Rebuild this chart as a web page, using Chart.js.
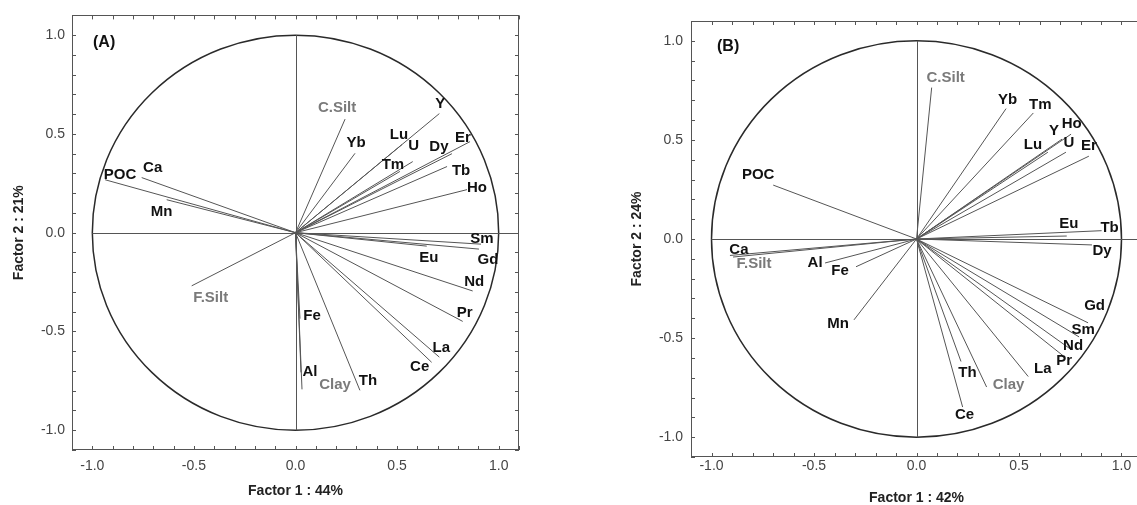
<!DOCTYPE html>
<html>
<head>
<meta charset="utf-8">
<script src="https://cdn.jsdelivr.net/npm/chart.js@4.4.0/dist/chart.umd.min.js"></script>
<style>
html, body { margin:0; padding:0; background:#fff; overflow:hidden; width:1137px; height:505px; }
canvas { position:absolute; top:0; }
#chartA { left:0; }
#chartB { left:620px; }
</style>
</head>
<body>
<canvas id="chartA" width="540" height="505"></canvas>
<canvas id="chartB" width="530" height="505"></canvas>
<script>
// loadings
var varsA = ['C.Silt','Yb','Y','Lu','U','Tm','Dy','Er','Tb','Ho','Sm','Gd','Eu','Nd','Pr','La','Ce','Th','Clay','Al','Fe','POC','Ca','Mn','F.Silt'];
var f1A = [0.244,0.293,0.708,0.524,0.577,0.514,0.770,0.859,0.746,0.844,0.913,0.903,0.646,0.872,0.823,0.708,0.670,0.317,0.032,0.027,0.022,-0.937,-0.757,-0.634,-0.511];
var f2A = [0.575,0.402,0.603,0.446,0.360,0.310,0.400,0.461,0.335,0.218,-0.058,-0.083,-0.068,-0.295,-0.449,-0.630,-0.656,-0.798,-0.793,-0.707,-0.435,0.268,0.279,0.167,-0.269];

var varsB = ['C.Silt','Yb','Tm','Y','Ho','Lu','U','Er','Eu','Tb','Dy','Gd','Sm','Nd','Pr','La','Clay','Th','Ce','POC','Ca','F.Silt','Al','Fe','Mn'];
var f1B = [0.074,0.437,0.570,0.710,0.754,0.641,0.729,0.841,0.733,0.903,0.856,0.837,0.793,0.749,0.715,0.545,0.342,0.217,0.225,-0.699,-0.910,-0.895,-0.446,-0.295,-0.305];
var f2B = [0.764,0.658,0.636,0.504,0.529,0.438,0.438,0.418,0.015,0.042,-0.030,-0.423,-0.494,-0.554,-0.589,-0.694,-0.747,-0.618,-0.848,0.272,-0.083,-0.091,-0.121,-0.140,-0.408];

var grainSize = ['C.Silt','F.Silt','Clay'];
var tickLabels = [-1.0,-0.5,0.0,0.5,1.0];

// label offsets from the arrow tip (px)
var dxA = [-8,1,1,-3,1,-7,-13,-7,14,10,1,9,2,1.5,2,2,-12,8,33,9,12,15,11,-5,19];
var dyA = [-11,-10,-10,-10,-16,-7,-7,-4,4.5,-2,-5,11,12,-9,-9,-9,4.5,-9,-4,-1,-3,-5,-10,12.5,12];
var dxB = [14,1.5,7,-8,0.7,-15,3,0,2,8,10,6.5,4,3,1,14.5,22,6.5,2,-15,9,21,-10,-16,-16];
var dyB = [-10,-9,-8.5,-8.5,-10,-7.5,-9,-10,-12,-3,6,-17,-7,-3,5,-7.5,-2,11,8,-10,-6,7,0,4.5,4];

var FONT = "'Liberation Sans', Arial, sans-serif";

function pcaPlugin(names, dx, dy, tag, tagDx, tagDy) {
  return {
    id: 'pca',
    beforeDatasetsDraw: function(chart) {
      var ctx = chart.ctx, xs = chart.scales.x, ys = chart.scales.y, a = chart.chartArea;
      var cx = xs.getPixelForValue(0), cy = ys.getPixelForValue(0);
      var rx = xs.getPixelForValue(1) - cx, ry = cy - ys.getPixelForValue(1);
      ctx.save();
      ctx.strokeStyle = '#555';
      ctx.lineWidth = 1;
      ctx.strokeRect(Math.round(a.left)+0.5, Math.round(a.top)+0.5, Math.round(a.right-a.left)-1, Math.round(a.bottom-a.top)-1);
      // inward ticks on all four sides
      ctx.beginPath();
      xs.ticks.forEach(function(t) {
        var p = Math.round(xs.getPixelForValue(t.value))+0.5;
        ctx.moveTo(p, a.bottom); ctx.lineTo(p, a.bottom-4);
        ctx.moveTo(p, a.top); ctx.lineTo(p, a.top+4);
      });
      ys.ticks.forEach(function(t) {
        var p = Math.round(ys.getPixelForValue(t.value))+0.5;
        ctx.moveTo(a.left, p); ctx.lineTo(a.left+4, p);
        ctx.moveTo(a.right, p); ctx.lineTo(a.right-4, p);
      });
      ctx.stroke();
      // unit circle
      ctx.beginPath();
      ctx.ellipse(cx, cy, rx, ry, 0, 0, 2*Math.PI);
      ctx.strokeStyle = '#2a2a2a';
      ctx.lineWidth = 1.5;
      ctx.stroke();
      // axes through the origin
      ctx.beginPath();
      ctx.moveTo(xs.getPixelForValue(-1), Math.round(cy)+0.5);
      ctx.lineTo(a.right, Math.round(cy)+0.5);
      ctx.moveTo(Math.round(cx)+0.5, ys.getPixelForValue(1));
      ctx.lineTo(Math.round(cx)+0.5, ys.getPixelForValue(-1));
      ctx.strokeStyle = '#555';
      ctx.lineWidth = 1;
      ctx.stroke();
      ctx.restore();
    },
    afterDatasetsDraw: function(chart) {
      var ctx = chart.ctx, xs = chart.scales.x, ys = chart.scales.y, a = chart.chartArea;
      ctx.save();
      ctx.textAlign = 'center';
      ctx.textBaseline = 'middle';
      ctx.font = 'bold 15px ' + FONT;
      chart.data.datasets.forEach(function(ds, i) {
        var pt = ds.data[1];
        ctx.fillStyle = grainSize.indexOf(names[i]) >= 0 ? '#7a7a7a' : '#111';
        ctx.fillText(names[i], xs.getPixelForValue(pt.x) + dx[i], ys.getPixelForValue(pt.y) + dy[i]);
      });
      ctx.font = 'bold 16px ' + FONT;
      ctx.fillStyle = '#111';
      ctx.textAlign = 'left';
      ctx.fillText(tag, a.left + tagDx, a.top + tagDy);
      ctx.restore();
    }
  };
}

function makeChart(id, names, f1, f2, dx, dy, opt) {
  var datasets = names.map(function(n, i) {
    return {
      label: n,
      data: [{x: 0, y: 0}, {x: f1[i], y: f2[i]}],
      showLine: true,
      borderColor: '#555',
      borderWidth: 1,
      pointRadius: 0
    };
  });
  var tickCb = function(v) {
    for (var k = 0; k < tickLabels.length; k++) {
      if (Math.abs(v - tickLabels[k]) < 1e-6) return tickLabels[k].toFixed(1);
    }
    return '';
  };
  return new Chart(document.getElementById(id), {
    type: 'scatter',
    data: {datasets: datasets},
    options: {
      responsive: false,
      animation: false,
      layout: {padding: {left: 0, right: opt.padRight, top: opt.padTop, bottom: 0}},
      plugins: {legend: {display: false}, tooltip: {enabled: false}},
      scales: {
        x: {
          type: 'linear', min: -1.1, max: 1.1,
          afterFit: function(s) { s.height = opt.xHeight; },
          grid: {display: false, drawTicks: false},
          border: {display: false},
          ticks: {stepSize: 0.1, autoSkip: false, maxRotation: 0, minRotation: 0, padding: opt.xTickPad,
                  color: '#444', font: {family: FONT, size: 14}, callback: tickCb},
          title: {display: true, text: opt.xTitle, color: '#222', font: {family: FONT, size: 14, weight: 'bold'},
                  padding: {top: 0, bottom: opt.xTitlePad}}
        },
        y: {
          type: 'linear', min: -1.1, max: 1.1,
          afterFit: function(s) { s.width = opt.yWidth; },
          grid: {display: false, drawTicks: false},
          border: {display: false},
          ticks: {stepSize: 0.1, autoSkip: false, padding: opt.yTickPad,
                  color: '#444', font: {family: FONT, size: 14}, callback: tickCb},
          title: {display: true, text: opt.yTitle, color: '#222', font: {family: FONT, size: 14, weight: 'bold'},
                  padding: {top: opt.yTitlePad, bottom: 0}}
        }
      }
    },
    plugins: [pcaPlugin(names, dx, dy, opt.tag, opt.tagDx, opt.tagDy)]
  });
}

makeChart('chartA', varsA, f1A, f2A, dxA, dyA, {
  padRight: 21, padTop: 13, xHeight: 55, yWidth: 72,
  xTickPad: 8, yTickPad: 7, xTitlePad: 5, yTitlePad: 10.5,
  xTitle: 'Factor 1 : 44%', yTitle: 'Factor 2 : 21%',
  tag: '(A)', tagDx: 21, tagDy: 27
});

makeChart('chartB', varsB, f1B, f2B, dxB, dyB, {
  padRight: 8, padTop: 21, xHeight: 48, yWidth: 71,
  xTickPad: 1, yTickPad: 8, xTitlePad: -2, yTitlePad: 8.5,
  xTitle: 'Factor 1 : 42%', yTitle: 'Factor 2 : 24%',
  tag: '(B)', tagDx: 26, tagDy: 26
});
</script>
</body>
</html>
